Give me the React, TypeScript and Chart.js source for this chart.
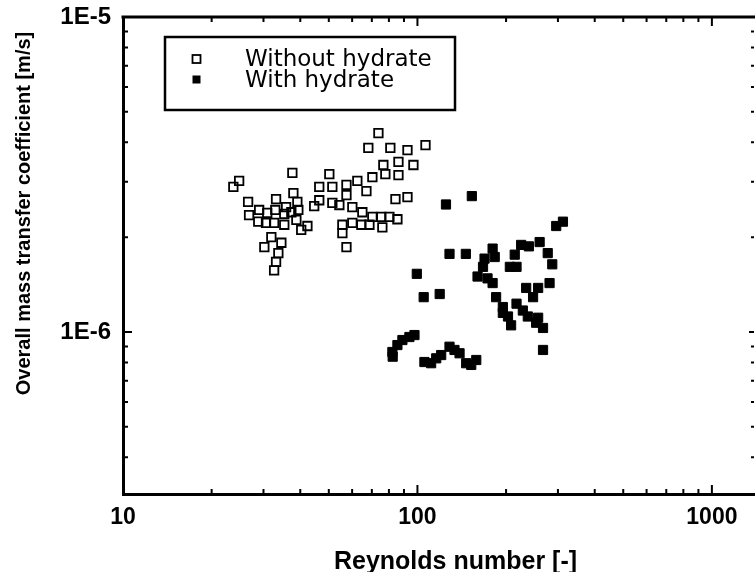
import React, { useEffect, useRef } from "react";
import { Chart, registerables } from "chart.js";

Chart.register(...registerables);

// ---- data -------------------------------------------------------------
const seriesLabels = ["Without hydrate", "With hydrate"];

// Reynolds number [-] and overall mass transfer coefficient [m/s], no hydrate
const withoutHydrateRe = [
  73.7, 68.1, 80.9, 92.5, 106.5, 76.6, 86.2, 96.9, 70.3, 77.8, 86.2, 67.1, 84.2, 92.5,
  60.1, 65.0, 75.4, 80.3, 85.5, 76.0, 68.7, 64.5, 60.1, 55.6, 57.4, 62.5, 57.4, 51.4,
  50.2, 46.4, 44.6, 51.4, 54.3, 37.6, 37.9, 39.1, 35.8, 33.1, 24.8, 23.7, 26.6, 26.8,
  28.8, 30.9, 30.6, 32.6, 35.3, 38.8, 40.3, 42.3, 29.0, 32.9, 35.3, 37.3, 31.9, 34.5,
  30.2, 33.7, 33.1, 32.6, 46.4, 57.4, 55.6, 70.3, 39.4,
];
const withoutHydrateK = [
  4.28e-6, 3.84e-6, 3.84e-6, 3.78e-6, 3.92e-6, 3.39e-6, 3.47e-6, 3.39e-6, 3.1e-6, 3.17e-6,
  3.15e-6, 2.8e-6, 2.64e-6, 2.68e-6, 2.49e-6, 2.4e-6, 2.32e-6, 2.32e-6, 2.28e-6, 2.15e-6,
  2.19e-6, 2.19e-6, 2.22e-6, 2.06e-6, 1.86e-6, 3.02e-6, 2.93e-6, 2.89e-6, 3.17e-6, 2.89e-6,
  2.51e-6, 2.57e-6, 2.53e-6, 3.2e-6, 2.76e-6, 2.59e-6, 2.49e-6, 2.64e-6, 3.02e-6, 2.89e-6,
  2.59e-6, 2.35e-6, 2.24e-6, 2.39e-6, 2.22e-6, 2.22e-6, 2.19e-6, 2.27e-6, 2.11e-6, 2.17e-6,
  2.44e-6, 2.44e-6, 2.37e-6, 2.4e-6, 2.0e-6, 1.92e-6, 1.86e-6, 1.78e-6, 1.67e-6, 1.57e-6,
  2.62e-6, 2.72e-6, 2.19e-6, 2.32e-6, 2.44e-6,
];

// with hydrate
const withHydrateRe = [
  153, 125, 312, 296, 128.5, 146, 180, 169, 183, 225, 239, 260, 214, 206, 217, 277, 287,
  167, 160, 173, 180, 99.5, 234, 257, 281, 247, 185, 195, 217, 203, 208, 237, 257, 267,
  253, 195, 228, 267, 105, 119, 82.2, 85.5, 88.9, 93.9, 97.7, 105.6, 111.3, 115.8, 120.4,
  128.5, 133.6, 139.0, 146.4, 152.3, 158.4, 82.4,
];
const withHydrateK = [
  2.7e-6, 2.54e-6, 2.24e-6, 2.17e-6, 1.77e-6, 1.77e-6, 1.84e-6, 1.71e-6, 1.73e-6, 1.89e-6,
  1.87e-6, 1.93e-6, 1.76e-6, 1.61e-6, 1.61e-6, 1.78e-6, 1.64e-6, 1.61e-6, 1.5e-6, 1.48e-6,
  1.43e-6, 1.53e-6, 1.38e-6, 1.38e-6, 1.43e-6, 1.29e-6, 1.29e-6, 1.2e-6, 1.23e-6, 1.12e-6,
  1.05e-6, 1.12e-6, 1.11e-6, 1.03e-6, 1.07e-6, 1.15e-6, 1.17e-6, 8.77e-7, 1.29e-6, 1.32e-6,
  8.64e-7, 9.09e-7, 9.43e-7, 9.64e-7, 9.78e-7, 8.03e-7, 7.96e-7, 8.25e-7, 8.45e-7, 8.98e-7,
  8.77e-7, 8.56e-7, 7.96e-7, 7.86e-7, 8.15e-7, 8.35e-7,
];

// ---- axes -------------------------------------------------------------
const xTickValues = [10, 100, 1000];
const xTickLabels = ["10", "100", "1000"];
const yTickValues = [1e-6, 1e-5];
const yTickLabels = ["1E-6", "1E-5"];
const xRange = [10, 1390];
const yRange = [3.06e-7, 1e-5];
const xTitle = "Reynolds number [-]";
const yTitle = "Overall mass transfer coefficient [m/s]";

const FONT = "'Liberation Sans', Arial, Helvetica, sans-serif";
const LEGEND_FONT = "'DejaVu Sans', 'Liberation Sans', sans-serif";

// decade subdivisions 2..9 of a log axis between two powers of ten
function logMinor(fromExp: number, toExp: number): number[] {
  const out: number[] = [];
  for (let e = fromExp; e < toExp; e++) {
    for (let m = 2; m <= 9; m++) out.push(Number((m * Math.pow(10, e)).toPrecision(3)));
  }
  return out;
}

const toPoints = (xs: number[], ys: number[]) => xs.map((x, i) => ({ x, y: ys[i] }));

// inward tick marks on all four sides plus the top frame line
const frameTicks = {
  id: "frameTicks",
  beforeDatasetsDraw(chart: any) {
    const { ctx, chartArea: a, scales } = chart;
    const xs = scales.x;
    const ys = scales.y;
    ctx.save();
    ctx.strokeStyle = "#000";
    ctx.lineCap = "butt";
    ctx.lineWidth = 3;
    ctx.beginPath();
    ctx.moveTo(a.left - 1.5, a.top);
    ctx.lineTo(chart.width, a.top);
    ctx.stroke();

    ctx.lineWidth = 2;
    const xMinor = logMinor(1, 3).filter((v) => v <= xRange[1]);
    const xMajor = [100, 1000];
    const tickX = (v: number, len: number) => {
      const px = xs.getPixelForValue(v);
      ctx.beginPath();
      ctx.moveTo(px, a.bottom);
      ctx.lineTo(px, a.bottom - len);
      ctx.moveTo(px, a.top);
      ctx.lineTo(px, a.top + len);
      ctx.stroke();
    };
    xMinor.forEach((v) => tickX(v, 5));
    xMajor.forEach((v) => tickX(v, 9));

    const yMinor = logMinor(-7, -5).filter((v) => v >= yRange[0]);
    const tickY = (v: number, len: number, rlen: number) => {
      const py = ys.getPixelForValue(v);
      ctx.beginPath();
      ctx.moveTo(a.left, py);
      ctx.lineTo(a.left + len, py);
      ctx.moveTo(a.right, py);
      ctx.lineTo(a.right - rlen, py);
      ctx.stroke();
    };
    yMinor.forEach((v) => tickY(v, 5, 3));
    tickY(1e-6, 9, 5);
    ctx.restore();
  },
};

// axis titles and the boxed legend
const annotations = {
  id: "annotations",
  afterDraw(chart: any) {
    const { ctx } = chart;
    ctx.save();
    ctx.fillStyle = "#000";

    ctx.font = `bold 25px ${FONT}`;
    ctx.textAlign = "center";
    ctx.textBaseline = "alphabetic";
    ctx.fillText(xTitle, 455.5, 569);

    ctx.save();
    ctx.translate(29.5, 213.5);
    ctx.rotate(-Math.PI / 2);
    ctx.font = `bold 20px ${FONT}`;
    ctx.fillText(yTitle, 0, 0);
    ctx.restore();

    // legend box
    ctx.strokeStyle = "#000";
    ctx.lineWidth = 2.5;
    ctx.strokeRect(165, 37, 290, 73);

    const rows = [
      { y: 59, base: 65.5 },
      { y: 79.5, base: 86.5 },
    ];
    chart.data.datasets.forEach((ds: any, i: number) => {
      const r = rows[i];
      const s = 8;
      if (ds.backgroundColor === "#000") {
        ctx.fillStyle = "#000";
        ctx.fillRect(196.5 - s / 2, r.y - s / 2, s, s);
      } else {
        ctx.lineWidth = 1.8;
        ctx.strokeRect(196.5 - s / 2, r.y - s / 2, s, s);
      }
      ctx.fillStyle = "#000";
      ctx.font = `23px ${LEGEND_FONT}`;
      ctx.textAlign = "left";
      ctx.textBaseline = "alphabetic";
      ctx.fillText(ds.label, 245, r.base);
    });
    ctx.restore();
  },
};

// fixed axis box sizes, no label overflow padding
const fixBox = (size: { width?: number; height?: number }) => (scale: any) => {
  if (size.width !== undefined) scale.width = size.width;
  if (size.height !== undefined) scale.height = size.height;
  scale.paddingTop = 0;
  scale.paddingBottom = 0;
  scale.paddingLeft = 0;
  scale.paddingRight = 0;
};

export default function App() {
  const canvasRef = useRef<HTMLCanvasElement | null>(null);

  useEffect(() => {
    document.body.style.margin = "0";
    const canvas = canvasRef.current;
    if (!canvas) return;

    const chart = new Chart(canvas, {
      type: "scatter",
      data: {
        datasets: [
          {
            label: seriesLabels[0],
            data: toPoints(withoutHydrateRe, withoutHydrateK),
            pointStyle: "rect",
            pointRadius: 6,
            borderWidth: 1.8,
            borderColor: "#000",
            backgroundColor: "rgba(0,0,0,0)",
          },
          {
            label: seriesLabels[1],
            data: toPoints(withHydrateRe, withHydrateK),
            pointStyle: "rect",
            pointRadius: 6.5,
            borderWidth: 1,
            borderColor: "#000",
            backgroundColor: "#000",
          },
        ],
      },
      options: {
        responsive: false,
        animation: false,
        events: [],
        layout: { autoPadding: false, padding: { top: 17, right: 1, left: 0, bottom: 0 } },
        plugins: {
          legend: { display: false },
          tooltip: { enabled: false },
        },
        scales: {
          x: {
            type: "logarithmic",
            position: "bottom",
            min: xRange[0],
            max: xRange[1],
            grid: { display: false, drawTicks: false },
            border: { display: true, color: "#000", width: 3 },
            ticks: {
              autoSkip: false,
              maxRotation: 0,
              padding: 10,
              color: "#000",
              font: { family: FONT, size: 23, weight: "bold" },
              callback: (v: any) => {
                const i = xTickValues.indexOf(Number(v));
                return i >= 0 ? xTickLabels[i] : "";
              },
            },
            afterBuildTicks: (scale: any) => {
              scale.ticks = xTickValues.map((value) => ({ value }));
            },
            afterFit: fixBox({ height: 78 }),
          },
          y: {
            type: "logarithmic",
            position: "left",
            min: yRange[0],
            max: yRange[1],
            grid: { display: false, drawTicks: false },
            border: { display: true, color: "#000", width: 3 },
            ticks: {
              autoSkip: false,
              padding: 12,
              color: "#000",
              font: { family: FONT, size: 24, weight: "bold" },
              callback: (v: any) => {
                const i = yTickValues.indexOf(Number(v));
                return i >= 0 ? yTickLabels[i] : "";
              },
            },
            afterBuildTicks: (scale: any) => {
              scale.ticks = yTickValues.map((value) => ({ value }));
            },
            afterFit: fixBox({ width: 123 }),
          },
        },
      } as any,
      plugins: [frameTicks, annotations],
    });

    return () => chart.destroy();
  }, []);

  return (
    <canvas
      ref={canvasRef}
      width={755}
      height={572}
      style={{ display: "block", width: "755px", height: "572px", background: "#fff" }}
    />
  );
}
